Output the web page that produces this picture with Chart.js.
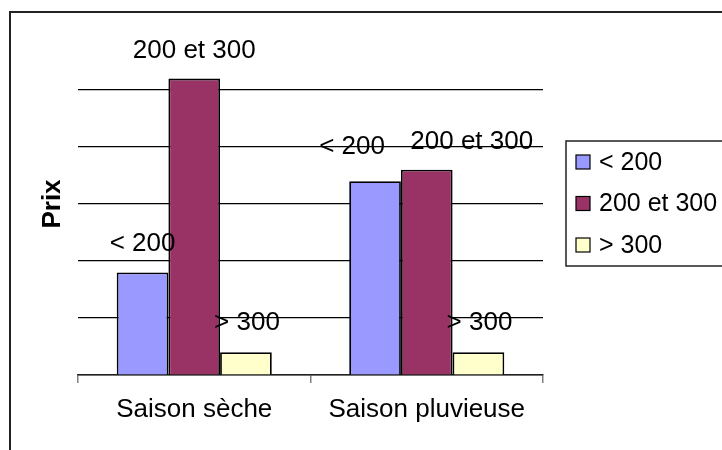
<!DOCTYPE html>
<html>
<head>
<meta charset="utf-8">
<script src="https://cdn.jsdelivr.net/npm/chart.js@4.4.0/dist/chart.umd.min.js"></script>
<style>
  html, body { margin: 0; padding: 0; background: #fff; }
  #chart { display: block; }
</style>
</head>
<body>
<canvas id="chart" width="722" height="450"></canvas>
<script>
const seasons = ['Saison sèche', 'Saison pluvieuse'];
const seriesNames = ['< 200', '200 et 300', '> 300'];
const below200 = [18, 34];
const between200and300 = [52, 36];
const above300 = [4, 4];
const seriesColors = ['#9999FF', '#993366', '#FFFFCC'];

const FONT = '"Liberation Sans", Arial, sans-serif';
Chart.defaults.font.family = FONT;

// cadre du graphique (comme dans Excel)
const frame = {
  id: 'frame',
  beforeDraw(chart) {
    const c = chart.ctx;
    c.save();
    c.fillStyle = '#fff';
    c.fillRect(0, 0, chart.width, chart.height);
    c.strokeStyle = '#222';
    c.lineWidth = 2;
    c.strokeRect(10, 12, chart.width + 20, chart.height + 20);
    c.restore();
  }
};

// étiquettes de série au-dessus des barres
const barLabels = {
  id: 'barLabels',
  afterDatasetsDraw(chart, args, opts) {
    const c = chart.ctx;
    c.save();
    c.font = '26px ' + FONT;
    c.fillStyle = '#000';
    c.textAlign = 'center';
    c.textBaseline = 'middle';
    chart.data.datasets.forEach((ds, i) => {
      chart.getDatasetMeta(i).data.forEach((bar, j) => {
        const s = opts.shift[i][j];
        c.fillText(ds.label, bar.x + s.dx, bar.y + s.dy);
      });
    });
    c.restore();
  }
};

// légende encadrée à droite
const sideLegend = {
  id: 'sideLegend',
  afterDraw(chart, args, opts) {
    const c = chart.ctx;
    c.save();
    c.strokeStyle = '#222';
    c.lineWidth = 1.5;
    c.strokeRect(opts.x, opts.y, 200, opts.h);
    c.font = '25px ' + FONT;
    c.textBaseline = 'middle';
    chart.data.datasets.forEach((ds, i) => {
      const cy = opts.y + opts.first + i * opts.step;
      c.fillStyle = ds.backgroundColor;
      c.fillRect(opts.x + 10, cy - 7, 14, 14);
      c.strokeStyle = '#000';
      c.lineWidth = 1.2;
      c.strokeRect(opts.x + 10, cy - 7, 14, 14);
      c.fillStyle = '#000';
      c.fillText(ds.label, opts.x + 33, cy + 1);
    });
    c.restore();
  }
};

const ctx = document.getElementById('chart').getContext('2d');
new Chart(ctx, {
  type: 'bar',
  data: {
    labels: seasons,
    datasets: [
      { label: seriesNames[0], data: below200, backgroundColor: seriesColors[0] },
      { label: seriesNames[1], data: between200and300, backgroundColor: seriesColors[1] },
      { label: seriesNames[2], data: above300, backgroundColor: seriesColors[2] }
    ]
  },
  options: {
    responsive: false,
    animation: false,
    devicePixelRatio: 1,
    layout: { padding: { top: 33, right: 179, bottom: 0, left: 0 } },
    datasets: {
      bar: {
        categoryPercentage: 0.667,
        barPercentage: 1,
        borderColor: '#000',
        borderWidth: 1.8
      }
    },
    plugins: {
      legend: { display: false },
      tooltip: { enabled: false },
      barLabels: {
        shift: [
          [{ dx: 0, dy: -29 }, { dx: -23, dy: -34 }],
          [{ dx: 0, dy: -28 }, { dx: 45, dy: -28 }],
          [{ dx: 1, dy: -29 }, { dx: 1, dy: -29 }]
        ]
      },
      sideLegend: { x: 566, y: 141, h: 125, first: 21, step: 41.5 }
    },
    scales: {
      x: {
        grid: { drawOnChartArea: false, tickLength: 8, color: '#808080', lineWidth: 1.5 },
        border: { color: '#222', width: 1.5 },
        ticks: { color: '#000', font: { size: 26 }, padding: 11 },
        afterFit: s => { s.height = 75; }
      },
      y: {
        min: 0,
        max: 60,
        ticks: { display: false, stepSize: 10 },
        grid: {
          drawTicks: false,
          color: c => c.tick.value === 60 ? 'rgba(0,0,0,0)' : '#000',
          lineWidth: 1.2
        },
        border: { display: false },
        title: {
          display: true,
          text: 'Prix',
          color: '#000',
          font: { size: 26, weight: 'bold' },
          padding: { top: 37, bottom: 0 }
        },
        afterFit: s => { s.width = 78; }
      }
    }
  },
  plugins: [frame, barLabels, sideLegend]
});
</script>
</body>
</html>
